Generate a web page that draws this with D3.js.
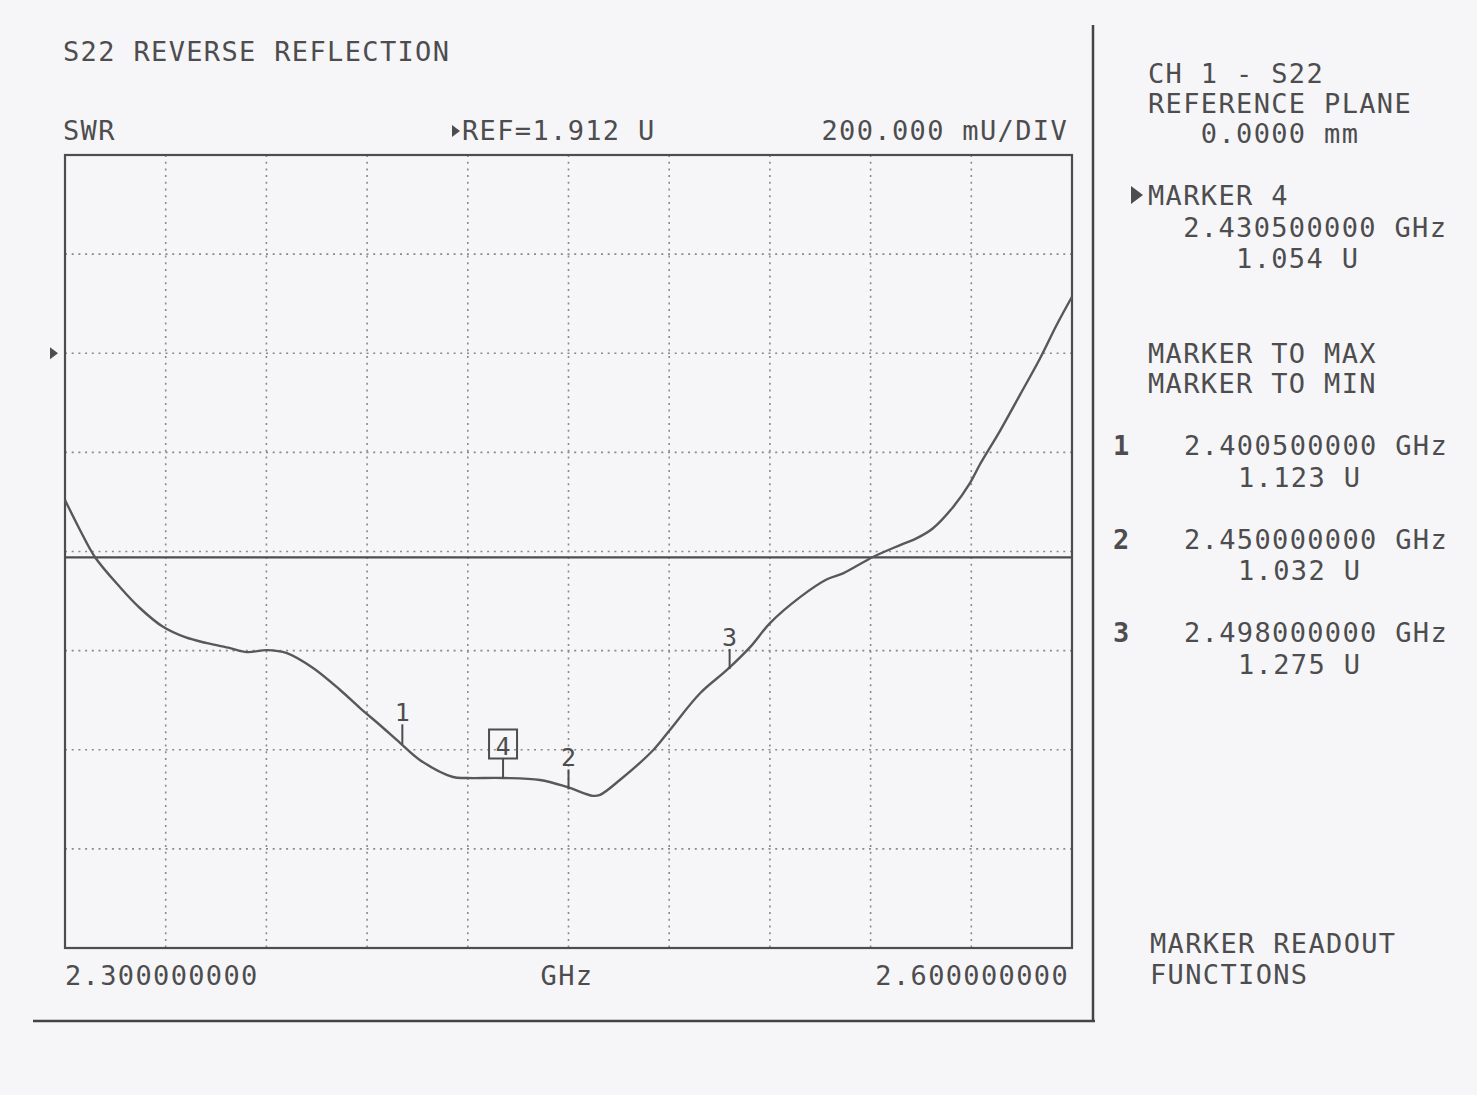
<!DOCTYPE html>
<html><head><meta charset="utf-8">
<script src="https://cdn.jsdelivr.net/npm/d3@7"></script>
<style>
html,body{margin:0;padding:0;background:#f6f6f8;}
svg{display:block;}
text{font-family:"DejaVu Sans Mono","Liberation Mono",monospace;fill:#4d4d4f;}
</style></head>
<body>
<script>
// ---- data ----
const freqGHz = [2.3000,2.3045,2.3089,2.3164,2.3223,2.3292,2.3358,2.3423,2.3492,2.3542,2.3602,2.3661,2.3739,2.3819,2.3879,2.3938,2.3998,2.4058,2.4156,2.4198,2.4305,2.4415,2.4495,2.4573,2.4594,2.4653,2.4752,2.4802,2.4892,2.4972,2.5041,2.5101,2.5190,2.5270,2.5318,2.5407,2.5488,2.5538,2.5586,2.5646,2.5696,2.5726,2.5786,2.5845,2.5905,2.5955,2.6000];
const swrValues = [1.616,1.555,1.501,1.440,1.398,1.360,1.339,1.327,1.317,1.309,1.313,1.307,1.277,1.233,1.196,1.162,1.126,1.091,1.057,1.055,1.055,1.051,1.037,1.019,1.021,1.051,1.111,1.152,1.226,1.273,1.319,1.368,1.420,1.456,1.468,1.501,1.525,1.539,1.559,1.602,1.650,1.688,1.756,1.828,1.902,1.970,2.026];
const markerIds = ["1","2","3","4"];
const markerFreqs = [2.4005,2.45,2.498,2.4305];
const markerValues = [1.123,1.032,1.275,1.054];
const activeMarker = "4";
const refValue = 1.912;
const perDiv = 0.2;
const limitValue = 1.5;
const startFreq = 2.3, stopFreq = 2.6;
const xDivs = 10, yDivs = 8, refDiv = 2; // reference 2 divisions below top

const titleText = "S22 REVERSE REFLECTION";
const formatText = "SWR";
const refText = "REF=1.912 U";
const scaleText = "200.000 mU/DIV";
const startLabel = "2.300000000", stopLabel = "2.600000000", unitLabel = "GHz";
const sideTop = ["CH 1 - S22","REFERENCE PLANE","   0.0000 mm"];
const activeReadout = ["MARKER 4","  2.430500000 GHz","     1.054 U"];
const sideFunc = ["MARKER TO MAX","MARKER TO MIN"];
const readoutIds = ["1","2","3"];
const readoutFreqs = ["2.400500000 GHz","2.450000000 GHz","2.498000000 GHz"];
const readoutVals = ["1.123 U","1.032 U","1.275 U"];
const sideBottom = ["MARKER READOUT","FUNCTIONS"];

// ---- layout ----
const W = 1477, H = 1095;
const L = 65, R = 1072, T = 155, B = 948;
const ink = "#4d4d4f";
const svg = d3.select("body").append("svg").attr("width",W).attr("height",H);
svg.append("rect").attr("width",W).attr("height",H).attr("fill","#f6f6f8");

const yTop = refValue + refDiv*perDiv, yBot = refValue - (yDivs-refDiv)*perDiv;
const x = d3.scaleLinear().domain([startFreq, stopFreq]).range([L, R]);
const y = d3.scaleLinear().domain([yBot, yTop]).range([B, T]);

const xGrid = d3.range(1, xDivs).map(i => startFreq + i*(stopFreq-startFreq)/xDivs);
const yGrid = d3.range(1, yDivs).map(i => yBot + i*perDiv);

const g = svg.append("g");
// grid
g.selectAll(".vg").data(xGrid).join("line")
  .attr("x1",d=>x(d)).attr("x2",d=>x(d)).attr("y1",T).attr("y2",B)
  .attr("stroke","#8a8a8e").attr("stroke-width",1.6).attr("stroke-dasharray","2,4.7");
g.selectAll(".hg").data(yGrid).join("line")
  .attr("x1",L).attr("x2",R).attr("y1",d=>y(d)).attr("y2",d=>y(d))
  .attr("stroke","#8a8a8e").attr("stroke-width",1.6).attr("stroke-dasharray","2,4.7");
// limit line
g.append("line").attr("x1",L).attr("x2",R).attr("y1",y(limitValue)).attr("y2",y(limitValue))
  .attr("stroke",ink).attr("stroke-width",2.2);
// border
g.append("rect").attr("x",L).attr("y",T).attr("width",R-L).attr("height",B-T)
  .attr("fill","none").attr("stroke",ink).attr("stroke-width",2.2);

// trace
const line = d3.line().x((d,i)=>x(freqGHz[i])).y(d=>y(d)).curve(d3.curveCatmullRom.alpha(0.5));
g.append("path").attr("d", line(swrValues)).attr("fill","none")
  .attr("stroke","#58585a").attr("stroke-width",2.4).attr("stroke-linejoin","round");

// markers
markerIds.forEach((id,i)=>{
  const mx = x(markerFreqs[i]), my = y(markerValues[i]);
  g.append("line").attr("x1",mx).attr("x2",mx).attr("y1",my).attr("y2",my-20)
    .attr("stroke",ink).attr("stroke-width",2);
  g.append("text").attr("x",mx).attr("y",my-23).attr("text-anchor","middle")
    .attr("font-size",25).attr("font-family","Liberation Sans, sans-serif").text(id);
  if(id===activeMarker){
    g.append("rect").attr("x",mx-14).attr("y",my-49).attr("width",28).attr("height",29)
      .attr("fill","none").attr("stroke",ink).attr("stroke-width",2);
  }
});

// ref arrow
const ry = y(refValue);
svg.append("path").attr("d",`M50,${ry-6}L58,${ry}L50,${ry+6}Z`).attr("fill",ink);

// frame lines
svg.append("line").attr("x1",1093).attr("x2",1093).attr("y1",25).attr("y2",1022).attr("stroke","#444").attr("stroke-width",2.5);
svg.append("line").attr("x1",33).attr("x2",1095).attr("y1",1021).attr("y2",1021).attr("stroke","#444").attr("stroke-width",2.5);

// texts
const fs = 27, ls = 1.35;
function txt(xp, yp, s, anchor){
  return svg.append("text").attr("x",xp).attr("y",yp).attr("font-size",fs)
    .attr("letter-spacing",ls).attr("text-anchor",anchor||"start")
    .style("white-space","pre").attr("xml:space","preserve").text(s);
}
txt(63,61,titleText);
txt(63,140,formatText);
svg.append("path").attr("d","M452,125L460,131L452,137Z").attr("fill",ink);
txt(462,140,refText);
txt(1068,140,scaleText,"end");
txt(65,985,startLabel);
txt(567,985,unitLabel,"middle");
txt(1069,985,stopLabel,"end");

// side panel
sideTop.forEach((s,i)=>txt(1148,83+i*30,s));
svg.append("path").attr("d","M1131,186L1143,195L1131,204Z").attr("fill",ink);
activeReadout.forEach((s,i)=>txt(1148,205+i*31.5,s));
sideFunc.forEach((s,i)=>txt(1148,363+i*30,s));
readoutIds.forEach((id,i)=>{
  const by = 455 + i*93.5;
  txt(1113,by,id).attr("font-weight","bold");
  txt(1184,by,readoutFreqs[i]);
  txt(1238,by+31.5,readoutVals[i]);
});
sideBottom.forEach((s,i)=>txt(1150,953+i*31,s));
</script>
</body></html>
